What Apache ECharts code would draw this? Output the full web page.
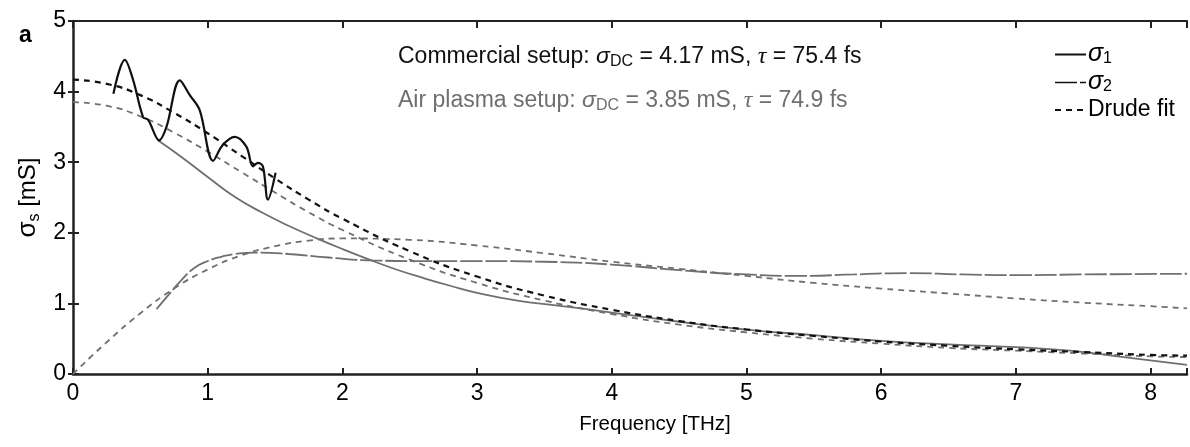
<!DOCTYPE html>
<html>
<head>
<meta charset="utf-8">
<script src="https://cdn.jsdelivr.net/npm/echarts@6/dist/echarts.min.js"></script>
<style>
html,body{margin:0;padding:0;background:#fff;}
#chart{width:1190px;height:447px;}
</style>
</head>
<body>
<div id="chart"></div>
<script>
// ---- data ----
const xTicks = [0, 1, 2, 3, 4, 5, 6, 7, 8];
const yTicks = [0, 1, 2, 3, 4, 5];

// Commercial setup, measured sigma1 (black solid)
const commercialSigma1 = [[0.30,3.97],[0.385,4.45],[0.447,4.16],[0.52,3.64],[0.558,3.60],[0.64,3.31],[0.694,3.50],[0.793,4.16],[0.867,3.95],[0.94,3.74],[1.04,3.02],[1.11,3.24],[1.20,3.36],[1.287,3.22],[1.336,2.94],[1.373,2.99],[1.41,2.94],[1.447,2.47],[1.504,2.85]];

// Air plasma setup, measured sigma1 (grey solid)
const airSigma1 = [[0.63,3.31],[0.8,3.08],[1.0,2.79],[1.2,2.51],[1.4,2.29],[1.6,2.10],[1.8,1.93],[2.0,1.77],[2.2,1.62],[2.4,1.48],[2.6,1.36],[2.8,1.25],[3.0,1.15],[3.3,1.04],[3.6,0.97],[4.0,0.87],[4.5,0.74],[5.0,0.63],[5.5,0.55],[6.0,0.47],[6.5,0.42],[7.0,0.38],[7.4,0.33],[7.8,0.24],[8.27,0.13]];

// Air plasma setup, measured sigma2 (grey long dash)
const airSigma2 = [[0.62,0.92],[0.7,1.10],[0.8,1.32],[0.9,1.50],[1.0,1.60],[1.1,1.66],[1.2,1.70],[1.35,1.72],[1.6,1.70],[1.9,1.65],[2.2,1.61],[2.6,1.60],[3.0,1.60],[3.5,1.59],[4.0,1.55],[4.5,1.47],[5.0,1.41],[5.4,1.39],[5.8,1.41],[6.2,1.43],[6.6,1.41],[7.0,1.40],[7.5,1.41],[8.27,1.42]];

// Drude fits
const commercialFitSigma1 = [[0,4.17],[0.25,4.11],[0.5,3.95],[0.75,3.70],[1,3.41],[1.25,3.09],[1.5,2.77],[1.75,2.47],[2,2.20],[2.5,1.74],[3,1.38],[3.5,1.11],[4,0.91],[4.5,0.75],[5,0.63],[5.5,0.54],[6,0.46],[6.5,0.40],[7,0.35],[7.5,0.31],[8,0.27],[8.27,0.26]];
const airFitSigma1 = [[0,3.85],[0.25,3.80],[0.5,3.65],[0.75,3.42],[1,3.15],[1.25,2.86],[1.5,2.57],[1.75,2.29],[2,2.04],[2.5,1.62],[3,1.29],[3.5,1.04],[4,0.85],[4.5,0.70],[5,0.59],[5.5,0.50],[6,0.43],[6.5,0.37],[7,0.33],[7.5,0.29],[8,0.25],[8.27,0.24]];
const airFitSigma2 = [[0,0],[0.25,0.45],[0.5,0.86],[0.75,1.21],[1,1.48],[1.25,1.68],[1.5,1.81],[1.75,1.89],[2,1.92],[2.5,1.90],[3,1.82],[3.5,1.71],[4,1.59],[4.5,1.49],[5,1.39],[5.5,1.29],[6,1.21],[6.5,1.14],[7,1.07],[7.5,1.01],[8,0.96],[8.27,0.93]];

const seriesNames = ['σ1', 'σ2', 'Drude fit'];
const commercialText = 'Commercial setup: {i|σ}{sub|DC} = 4.17 mS, {t|τ} = 75.4 fs';
const airText = 'Air plasma setup: {i|σ}{sub|DC} = 3.85 mS, {t|τ} = 74.9 fs';

// ---- styles ----
const FONT = 'Liberation Sans, Arial, Helvetica, sans-serif';
const BLACK = '#111111';
const GREY = '#6f6f6f';
const XMAX = 8.27;

function richFor(color, size) {
  return {
    i: {fontFamily: FONT, fontStyle: 'italic', fontSize: size, color: color, lineHeight: 26, verticalAlign: 'middle'},
    t: {fontFamily: 'Liberation Serif, Times New Roman, serif', fontStyle: 'italic', fontSize: size + 1, color: color, lineHeight: 26, verticalAlign: 'middle'},
    sub: {fontFamily: FONT, fontSize: Math.round(size * 0.7), color: color, lineHeight: 14, verticalAlign: 'bottom'}
  };
}

const chart = echarts.init(document.getElementById('chart'), null, {renderer: 'canvas'});

const intLabel = v => (Math.abs(v - Math.round(v)) < 1e-6 ? String(Math.round(v)) : '');

const option = {
  backgroundColor: '#ffffff',
  animation: false,
  title: [
    {text: 'a', left: 14, top: 19, textStyle: {fontFamily: FONT, fontWeight: 'bold', fontSize: 23, color: '#000'}},
    {text: commercialText, left: 393, top: 39, textStyle: {fontFamily: FONT, fontSize: 23, fontWeight: 'normal', color: BLACK, lineHeight: 26, rich: richFor(BLACK, 23)}},
    {text: airText, left: 393, top: 83, textStyle: {fontFamily: FONT, fontSize: 23, fontWeight: 'normal', color: GREY, lineHeight: 26, rich: richFor(GREY, 23)}}
  ],
  legend: {
    orient: 'vertical',
    left: 1049,
    top: 37,
    itemWidth: 31,
    itemHeight: 14,
    itemGap: 3,
    selectedMode: false,
    itemStyle: {opacity: 0},
    data: [
      {name: 'σ1'},
      {name: 'σ2', lineStyle: {color: BLACK, width: 1.5}},
      {name: 'Drude fit'}
    ],
    formatter: function (name) {
      if (name === 'σ1') return '{i|σ}{sub|1}';
      if (name === 'σ2') return '{i|σ}{sub|2}';
      return name;
    },
    textStyle: {
      fontFamily: FONT, fontSize: 23, color: '#000', lineHeight: 24, padding: [0, 0, 0, -3],
      rich: {
        i: {fontFamily: FONT, fontStyle: 'italic', fontSize: 25, color: '#000', lineHeight: 24, verticalAlign: 'middle'},
        sub: {fontFamily: FONT, fontSize: 16, color: '#000', lineHeight: 12, verticalAlign: 'bottom'}
      }
    }
  },
  grid: {left: 73, right: 0, top: 21, bottom: 73, containLabel: false},
  xAxis: [
    {
      type: 'value', min: 0, max: XMAX, interval: 1, position: 'bottom',
      name: 'Frequency [THz]', nameLocation: 'middle', nameGap: 40,
      nameTextStyle: {fontFamily: FONT, fontSize: 20.5, color: '#000', padding: [0, 0, 0, 50]},
      axisLine: {show: true, lineStyle: {color: '#222', width: 2.5}},
      axisTick: {show: true, inside: true, length: 6, lineStyle: {color: '#222', width: 2}},
      axisLabel: {show: true, formatter: intLabel, margin: 8, fontFamily: FONT, fontSize: 23, color: '#000'},
      splitLine: {show: false}
    },
    {
      type: 'value', min: 0, max: XMAX, interval: 1, position: 'top',
      axisLine: {show: true, onZero: false, lineStyle: {color: '#222', width: 2}},
      axisTick: {show: true, inside: true, length: 7, lineStyle: {color: '#222', width: 2}},
      axisLabel: {show: false},
      splitLine: {show: false}
    }
  ],
  yAxis: [
    {
      type: 'value', min: 0, max: 5, interval: 1, position: 'left',
      name: '{i|σ}{sub|s} [mS]', nameLocation: 'middle', nameGap: 24,
      nameTextStyle: {
        fontFamily: FONT, fontSize: 24, color: '#000', lineHeight: 28,
        rich: {
          i: {fontFamily: FONT, fontSize: 26, color: '#000', lineHeight: 28, verticalAlign: 'middle'},
          sub: {fontFamily: FONT, fontSize: 16, color: '#000', lineHeight: 14, verticalAlign: 'bottom'}
        }
      },
      axisLine: {show: true, lineStyle: {color: '#222', width: 2.5}},
      axisTick: {show: true, inside: true, length: 6, lineStyle: {color: '#222', width: 2}},
      axisLabel: {show: true, formatter: intLabel, margin: 7, fontFamily: FONT, fontSize: 23, color: '#000'},
      splitLine: {show: false}
    },
    {
      type: 'value', min: 0, max: 5, interval: 1, position: 'right',
      axisLine: {show: false},
      axisTick: {show: true, inside: true, length: 5, lineStyle: {color: '#222', width: 2}},
      axisLabel: {show: false},
      splitLine: {show: false}
    }
  ],
  series: [
    {name: 'σ1', type: 'line', data: commercialSigma1, smooth: 0.35, symbol: 'none', z: 6,
     lineStyle: {color: BLACK, width: 2.2}, itemStyle: {color: BLACK}},
    {name: 'Drude fit', type: 'line', data: commercialFitSigma1, smooth: true, symbol: 'none', z: 5,
     lineStyle: {color: BLACK, width: 2.2, type: [6, 5]}, itemStyle: {color: BLACK}},
    {name: 'σ1', type: 'line', data: airSigma1, smooth: true, symbol: 'none', z: 3,
     lineStyle: {color: GREY, width: 1.8}, itemStyle: {color: GREY}},
    {name: 'σ2', type: 'line', data: airSigma2, smooth: true, symbol: 'none', z: 3,
     lineStyle: {color: GREY, width: 1.8, type: [22, 3]}, itemStyle: {color: GREY}},
    {name: 'Drude fit', type: 'line', data: airFitSigma1, smooth: true, symbol: 'none', z: 2,
     lineStyle: {color: GREY, width: 1.8, type: [6, 5]}, itemStyle: {color: GREY}},
    {name: 'Drude fit', type: 'line', data: airFitSigma2, smooth: true, symbol: 'none', z: 2,
     lineStyle: {color: GREY, width: 1.8, type: [6, 5]}, itemStyle: {color: GREY}}
  ]
};
chart.setOption(option);
</script>
</body>
</html>
